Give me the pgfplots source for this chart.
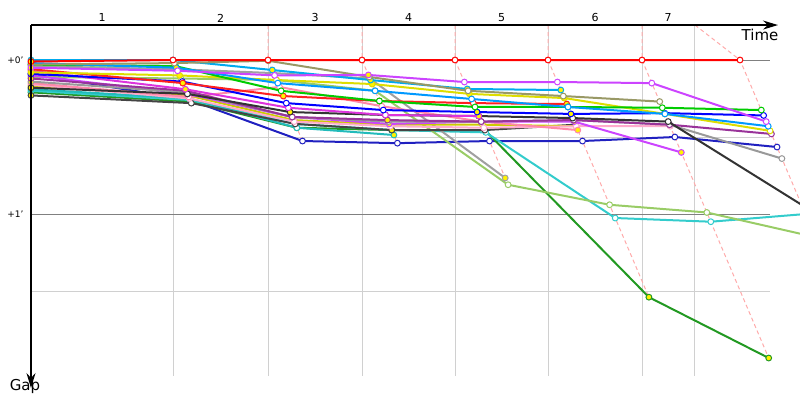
\documentclass[border=0pt]{standalone}
\usepackage{fontspec}
\setmainfont{DejaVu Sans}
\usepackage{pgfplots}
\pgfplotsset{compat=1.18}
\usetikzlibrary{arrows.meta}

\definecolor{cLead}{HTML}{FF0000}
\definecolor{cViolet}{HTML}{CC44FF}
\definecolor{cOlive}{HTML}{999966}
\definecolor{cSky}{HTML}{00AAEE}
\definecolor{cAzure}{HTML}{0099FF}
\definecolor{cGrayB}{HTML}{A0A0A0}
\definecolor{cLime}{HTML}{99CC66}
\definecolor{cGreen}{HTML}{00CC00}
\definecolor{cYellow}{HTML}{DDDD00}
\definecolor{cRed}{HTML}{FF2020}
\definecolor{cBlue}{HTML}{0000FF}
\definecolor{cMagenta}{HTML}{DD33DD}
\definecolor{cBlack}{HTML}{333333}
\definecolor{cPurple}{HTML}{993399}
\definecolor{cGray}{HTML}{999999}
\definecolor{cPink}{HTML}{FF88AA}
\definecolor{cTeal}{HTML}{33CCCC}
\definecolor{cDkGreen}{HTML}{229922}
\definecolor{cCyan}{HTML}{22BBBB}
\definecolor{cDkGray}{HTML}{444444}
\definecolor{cNavy}{HTML}{2020C0}
\definecolor{cRose}{HTML}{FFAACC}
\definecolor{cOchre}{HTML}{CCCC00}
\definecolor{cGrid}{HTML}{D0D0D0}
\definecolor{cZero}{HTML}{808080}
\definecolor{cDash}{HTML}{FFAAAA}

% gap chart: x = leader time at checkpoint + gap, y = gap (minutes)
\pgfplotsset{rider/.style={
  line width=2pt, mark=*, mark size=2.9pt,
  scatter, scatter src=explicit symbolic,
  scatter/classes={w={fill=white}, y={fill=yellow}},
  mark options={line width=1pt, solid},
}}

\begin{document}
\begin{tikzpicture}
\begin{axis}[
  scale only axis, width=769pt, height=363pt,
  xmin=31, xmax=800, ymin=-0.227, ymax=2.13, y dir=reverse,
  axis line style={draw=none},
  xtick=\empty, ytick={0,1}, yticklabels={+0',+1'},
  major tick length=0pt,
  yticklabel style={font=\fontsize{9}{10}\selectfont, xshift=-4pt},
  clip mode=individual,
]
% grid
\pgfplotsinvokeforeach{173,268,362,455,548,642,694}{
  \draw[cGrid, line width=1pt] (axis cs:#1,-0.227) -- (axis cs:#1,2.05);
}
\draw[cGrid, line width=1pt] (axis cs:31,0.5) -- (axis cs:770,0.5);
\draw[cGrid, line width=1pt] (axis cs:31,1.5) -- (axis cs:770,1.5);
\draw[cZero, line width=1pt] (axis cs:31,0) -- (axis cs:770,0);
\draw[cZero, line width=1pt] (axis cs:31,1) -- (axis cs:770,1);

% checkpoint lines
\addplot[cDash, line width=1pt, dash pattern=on 4pt off 3pt] coordinates {(268,-0.227) (268,0) (302.5,0.526)};
\addplot[cDash, line width=1pt, dash pattern=on 4pt off 3pt] coordinates {(362,-0.227) (362,0) (397.4,0.54)};
\addplot[cDash, line width=1pt, dash pattern=on 4pt off 3pt] coordinates {(455,-0.227) (455,0) (508.1,0.81)};
\addplot[cDash, line width=1pt, dash pattern=on 4pt off 3pt] coordinates {(548,-0.227) (548,0) (648.9,1.54)};
\addplot[cDash, line width=1pt, dash pattern=on 4pt off 3pt] coordinates {(642,-0.227) (642,0) (768.7,1.935)};
\addplot[cDash, line width=1pt, dash pattern=on 4pt off 3pt] coordinates {(695,-0.227) (740,0) (805.5,1.00)};

% riders
\addplot[rider, cNavy] coordinates {(31,0.09)[y] (190,0.26)[w] (302.5,0.526)[w] (397.4,0.54)[w] (489.5,0.526)[w] (582.5,0.526)[w] (674.8,0.50)[w] (777,0.565)[w]};
\addplot[rider, cDkGreen] coordinates {(31,0.21)[y] (190.7,0.27)[y] (296.8,0.44)[w] (391.8,0.455)[y] (484.8,0.455)[y] (648.9,1.54)[y] (768.7,1.935)[y]};
\addplot[rider, cTeal] coordinates {(31,0.20)[y] (190,0.26)[w] (295.2,0.415)[w] (391.8,0.455)[w] (485.8,0.47)[w] (615.2,1.026)[w] (710.8,1.05)[w] (805.5,1.00)[w]};
\addplot[rider, cLime] coordinates {(31,0.11)[y] (180.9,0.12)[w] (276.5,0.13)[w] (375.1,0.20)[y] (508.1,0.81)[w] (609.6,0.94)[w] (706.8,0.99)[w] (815.3,1.15)[w]};
\addplot[rider, cGrayB] coordinates {(31,0.04)[y] (176.9,0.06)[w] (273.6,0.085)[w] (369.9,0.12)[w] (505.2,0.766)[y]};
\addplot[rider, cCyan] coordinates {(31,0.19)[y] (189.4,0.25)[y] (296.8,0.44)[w] (393.9,0.487)[y]};
\addplot[rider, cDkGray] coordinates {(31,0.23)[y] (191.3,0.28)[w] (295.2,0.415)[w] (391.8,0.455)[y] (484.8,0.455)[w] (575.5,0.42)[w]};
\addplot[rider, cOchre] coordinates {(31,0.17)[y] (188.1,0.23)[y] (293.5,0.39)[y] (389.5,0.42)[y] (482.5,0.42)[w] (576.2,0.43)[w]};
\addplot[rider, cRose] coordinates {(31,0.16)[y] (189.4,0.25)[w] (294.2,0.40)[w] (390.2,0.43)[w] (483.8,0.44)[w] (576.2,0.43)[w] (670.2,0.43)[w]};
\addplot[rider, cPink] coordinates {(31,0.15)[y] (188.7,0.24)[w] (279.5,0.175)[w] (381.7,0.30)[w] (481.2,0.40)[w] (577.8,0.455)[y]};
\addplot[rider, cViolet] coordinates {(31,0.10)[y] (187.4,0.22)[y] (292.2,0.37)[w] (389.2,0.415)[y] (481.2,0.40)[w] (574.2,0.40)[y] (681.3,0.60)[y]};
\addplot[rider, cGray] coordinates {(31,0.14)[y] (186.8,0.21)[w] (292.2,0.37)[w] (388.2,0.40)[w] (481.2,0.40)[w] (573.5,0.39)[w] (669.5,0.42)[w] (781.9,0.64)[w]};
\addplot[rider, cPurple] coordinates {(31,0.12)[y] (186.1,0.20)[w] (292.2,0.37)[w] (387.5,0.39)[y] (481.2,0.40)[w] (573.5,0.39)[w] (669.5,0.42)[w] (771.4,0.48)[w]};
\addplot[rider, cBlack] coordinates {(31,0.18)[y] (187.4,0.22)[w] (290.1,0.338)[y] (385.4,0.357)[y] (478.8,0.364)[w] (572.7,0.377)[w] (668.2,0.40)[w] (801.6,0.94)[w]};
\addplot[rider, cMagenta] coordinates {(31,0.07)[y] (185.4,0.19)[y] (288.3,0.31)[w] (385.4,0.357)[w] (478.8,0.364)[y]};
\addplot[rider, cBlue] coordinates {(31,0.09)[y] (182.2,0.14)[w] (286.3,0.28)[w] (383.3,0.325)[w] (477.1,0.338)[y] (570.9,0.35)[y] (664.6,0.345)[y] (763.6,0.36)[w]};
\addplot[rider, cRed] coordinates {(31,0.06)[y] (182.8,0.15)[y] (283.3,0.234)[y] (379.4,0.266)[y] (473.3,0.28)[w] (566.7,0.286)[y]};
\addplot[rider, cYellow] coordinates {(31,0.08)[y] (179.6,0.10)[y] (276.5,0.13)[w] (372.2,0.156)[y] (469.4,0.22)[y] (564.2,0.247)[y] (664.9,0.35)[y] (770.1,0.46)[w]};
\addplot[rider, cGreen] coordinates {(31,0.03)[y] (175.6,0.04)[w] (281.1,0.20)[w] (379.4,0.266)[w] (475,0.305)[w] (568,0.305)[w] (662.3,0.31)[w] (761.3,0.325)[w]};
\addplot[rider, cAzure] coordinates {(31,0.02)[y] (176.3,0.05)[y] (277.8,0.15)[w] (375.1,0.20)[w] (471.6,0.253)[w] (568,0.305)[w] (664.9,0.35)[w] (768.2,0.43)[w]};
\addplot[rider, cSky] coordinates {(31,0.00)[y] (173,0.00)[y] (272.3,0.065)[y] (370.5,0.13)[y] (467.3,0.188)[y] (560.8,0.195)[y]};
\addplot[rider, cOlive] coordinates {(31,0.03)[y] (174.3,0.02)[w] (268.3,0.005)[w] (369.2,0.11)[w] (468.1,0.20)[w] (563.3,0.234)[w] (659.7,0.27)[w]};
\addplot[rider, cViolet] coordinates {(31,0.05)[y] (177.6,0.07)[w] (274.6,0.10)[w] (368.4,0.097)[y] (464.4,0.143)[w] (557.4,0.143)[w] (651.8,0.15)[w] (766.2,0.40)[w]};
\addplot[rider, cLead] coordinates {(31,0.01)[y] (173,0)[w] (268,0)[w] (362,0)[w] (455,0)[w] (548,0)[w] (642,0)[w] (740,0)[w]};

% axes with arrows
\draw[line width=1.3pt, -{Stealth[length=15pt, width=9pt]}] (axis cs:31,-0.227) -- (axis cs:778,-0.227);
\draw[line width=1.3pt, -{Stealth[length=15pt, width=9pt]}] (axis cs:31,-0.227) -- (axis cs:31,2.13);

% checkpoint numbers
\node[font=\fontsize{11}{12}\selectfont] at (axis cs:102,-0.273) {1};
\node[font=\fontsize{11}{12}\selectfont] at (axis cs:220.5,-0.273) {2};
\node[font=\fontsize{11}{12}\selectfont] at (axis cs:315,-0.273) {3};
\node[font=\fontsize{11}{12}\selectfont] at (axis cs:408.5,-0.273) {4};
\node[font=\fontsize{11}{12}\selectfont] at (axis cs:501.5,-0.273) {5};
\node[font=\fontsize{11}{12}\selectfont] at (axis cs:595,-0.273) {6};
\node[font=\fontsize{11}{12}\selectfont] at (axis cs:668,-0.273) {7};
\node[font=\fontsize{15}{16}\selectfont] at (axis cs:760,-0.162) {Time};
\node[font=\fontsize{15}{16}\selectfont] at (axis cs:25,2.117) {Gap};

\coordinate (bbA) at (axis cs:0,-0.3896);
\coordinate (bbB) at (axis cs:800,2.2078);
\end{axis}
\pgfresetboundingbox
\useasboundingbox (bbA) rectangle (bbB);
\end{tikzpicture}
\end{document}
